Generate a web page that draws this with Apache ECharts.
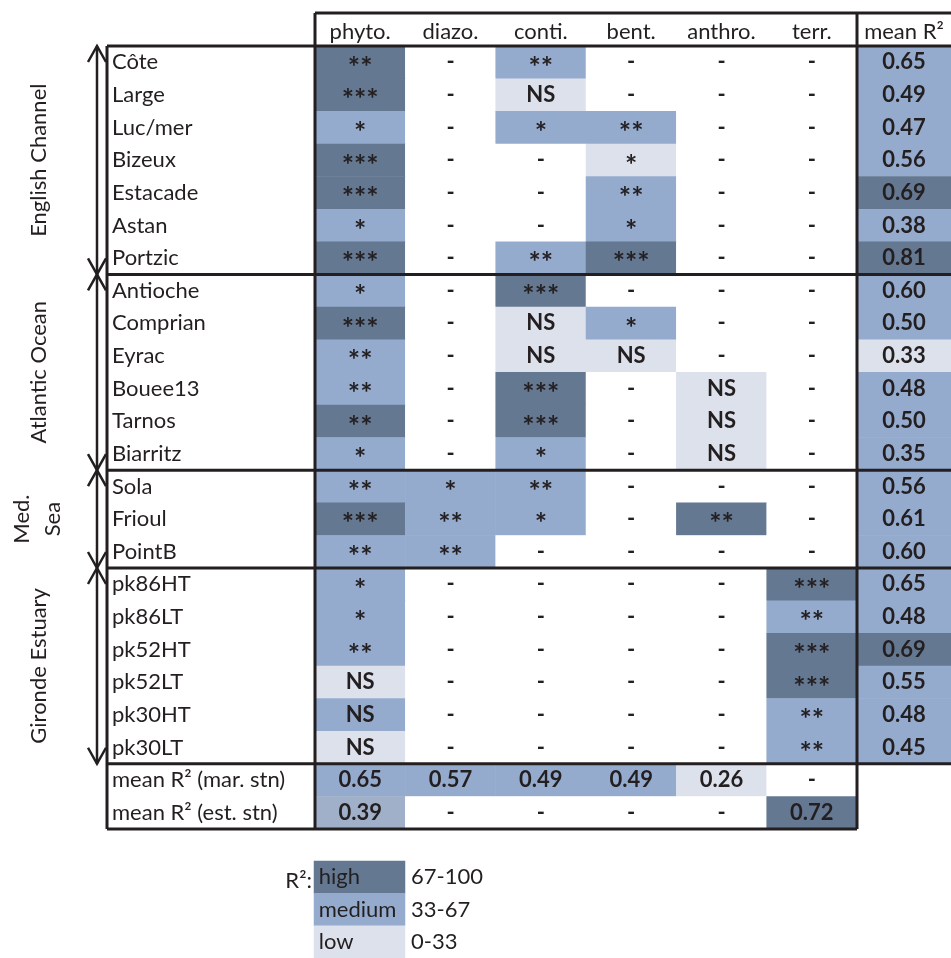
<!DOCTYPE html>
<html>
<head>
<meta charset="utf-8">
<script src="https://cdn.jsdelivr.net/npm/echarts@6/dist/echarts.min.js"></script>
<style>
html, body { margin: 0; padding: 0; background: #fff; overflow: hidden; }
#main { width: 951px; height: 958px; }
</style>
</head>
<body>
<div id="main"></div>
<script>
// column headers and row names
var columns = ['phyto.', 'diazo.', 'conti.', 'bent.', 'anthro.', 'terr.'];
var meanColumn = ['mean R²'];
var stations = ['Côte', 'Large', 'Luc/mer', 'Bizeux', 'Estacade', 'Astan', 'Portzic',
    'Antioche', 'Comprian', 'Eyrac', 'Bouee13', 'Tarnos', 'Biarritz',
    'Sola', 'Frioul', 'PointB',
    'pk86HT', 'pk86LT', 'pk52HT', 'pk52LT', 'pk30HT', 'pk30LT',
    'mean R² (mar. stn)', 'mean R² (est. stn)'];

// cell text, one row per station (last entry = mean R² column)
var cellText = [
    ['**', '-', '**', '-', '-', '-', '0.65'],
    ['***', '-', 'NS', '-', '-', '-', '0.49'],
    ['*', '-', '*', '**', '-', '-', '0.47'],
    ['***', '-', '-', '*', '-', '-', '0.56'],
    ['***', '-', '-', '**', '-', '-', '0.69'],
    ['*', '-', '-', '*', '-', '-', '0.38'],
    ['***', '-', '**', '***', '-', '-', '0.81'],
    ['*', '-', '***', '-', '-', '-', '0.60'],
    ['***', '-', 'NS', '*', '-', '-', '0.50'],
    ['**', '-', 'NS', 'NS', '-', '-', '0.33'],
    ['**', '-', '***', '-', 'NS', '-', '0.48'],
    ['**', '-', '***', '-', 'NS', '-', '0.50'],
    ['*', '-', '*', '-', 'NS', '-', '0.35'],
    ['**', '*', '**', '-', '-', '-', '0.56'],
    ['***', '**', '*', '-', '**', '-', '0.61'],
    ['**', '**', '-', '-', '-', '-', '0.60'],
    ['*', '-', '-', '-', '-', '***', '0.65'],
    ['*', '-', '-', '-', '-', '**', '0.48'],
    ['**', '-', '-', '-', '-', '***', '0.69'],
    ['NS', '-', '-', '-', '-', '***', '0.55'],
    ['NS', '-', '-', '-', '-', '**', '0.48'],
    ['NS', '-', '-', '-', '-', '**', '0.45'],
    ['0.65', '0.57', '0.49', '0.49', '0.26', '-', ''],
    ['0.39', '-', '-', '-', '-', '0.72', '']
];

// R² class of each cell: 0 none, 1 low, 2 medium, 3 high, 4 medium (est.)
var cellLevel = [
    [3, 0, 2, 0, 0, 0, 2],
    [3, 0, 1, 0, 0, 0, 2],
    [2, 0, 2, 2, 0, 0, 2],
    [3, 0, 0, 1, 0, 0, 2],
    [3, 0, 0, 2, 0, 0, 3],
    [2, 0, 0, 2, 0, 0, 2],
    [3, 0, 2, 3, 0, 0, 3],
    [2, 0, 3, 0, 0, 0, 2],
    [3, 0, 1, 2, 0, 0, 2],
    [2, 0, 1, 1, 0, 0, 1],
    [2, 0, 3, 0, 1, 0, 2],
    [3, 0, 3, 0, 1, 0, 2],
    [2, 0, 2, 0, 1, 0, 2],
    [2, 2, 2, 0, 0, 0, 2],
    [3, 2, 2, 0, 3, 0, 2],
    [2, 2, 0, 0, 0, 0, 2],
    [2, 0, 0, 0, 0, 3, 2],
    [2, 0, 0, 0, 0, 2, 2],
    [2, 0, 0, 0, 0, 3, 3],
    [1, 0, 0, 0, 0, 3, 2],
    [2, 0, 0, 0, 0, 2, 2],
    [1, 0, 0, 0, 0, 2, 2],
    [2, 2, 2, 2, 1, 0, null],
    [4, 0, 0, 0, 0, 3, null]
];

// station groups (row index ranges)
var groupNames = ['English Channel', 'Atlantic Ocean', 'Med.|Sea', 'Gironde Estuary'];
var groupStart = [0, 7, 13, 16];
var groupEnd = [7, 13, 16, 22];

// legend
var legendNames = ['high', 'medium', 'low'];
var legendLevels = [3, 2, 1];
var legendRanges = ['67-100', '33-67', '0-33'];

var levelColors = ['#ffffff', '#dde1ec', '#95abce', '#657892', '#a0b0c9'];
var ink = '#231f20';
var font = 'Lato';

var G = { left: 315, top: 46, width: 542, height: 783 };   // 6 factor columns
var M = { left: 857, width: 95 };                            // mean R² column
var rowH = G.height / stations.length;

function makeCell(r, c, x) {
    var lv = cellLevel[r][c];
    var item = { value: [x, r, lv], itemStyle: { color: levelColors[lv] } };
    // asterisks are drawn bigger, like the original
    if (cellText[r][c].charAt(0) === '*') {
        item.label = { fontSize: 29, padding: 0, offset: [0, 5] };
    }
    return item;
}

var cells = [], meanCells = [];
for (var r = 0; r < stations.length; r++) {
    for (var c = 0; c < columns.length; c++) {
        cells.push(makeCell(r, c, c));
    }
    if (cellLevel[r][6] !== null) meanCells.push(makeCell(r, 6, 0));
}
var legendCells = legendNames.map(function(n, i) {
    return { value: [0, i, legendLevels[i]], itemStyle: { color: levelColors[legendLevels[i]] } };
});

var chart = echarts.init(document.getElementById('main'));

// table borders and group arrows
function buildGraphics() {
    var g = [];
    var Y = function(j) { return G.top + j * rowH; };
    var right = 960, leftEdge = 107, xMid = M.left;
    function line(x1, y1, x2, y2) {
        g.push({ type: 'line', shape: { x1: x1, y1: y1, x2: x2, y2: y2 },
            style: { stroke: ink, lineWidth: 3 }, z: 10 });
    }
    line(G.left, 13, right, 13);
    line(leftEdge, Y(0), right, Y(0));
    line(G.left, 13, G.left, Y(24));
    line(xMid, 13, xMid, Y(24));
    line(leftEdge, Y(0), leftEdge, Y(24));
    groupEnd.forEach(function(e) { line(leftEdge, Y(e), right, Y(e)); });
    line(leftEdge, Y(24), xMid, Y(24));

    var ax = 97;
    groupNames.forEach(function(name, i) {
        var y1 = Y(groupStart[i]), y2 = Y(groupEnd[i]);
        g.push({ type: 'polyline', shape: { points: [[ax, y1], [ax, y2]] },
            style: { stroke: ink, lineWidth: 2.5, fill: null } });
        g.push({ type: 'polyline', shape: { points: [[ax - 9, y1 + 16], [ax, y1], [ax + 9, y1 + 16]] },
            style: { stroke: ink, lineWidth: 2.5, fill: null } });
        g.push({ type: 'polyline', shape: { points: [[ax - 9, y2 - 16], [ax, y2], [ax + 9, y2 - 16]] },
            style: { stroke: ink, lineWidth: 2.5, fill: null } });
        var cy = (y1 + y2) / 2;
        var parts = name.split('|');
        if (parts.length === 1) {
            g.push({ type: 'text', x: 39, y: cy, rotation: Math.PI / 2,
                style: { text: name, font: '22px ' + font, fill: ink, align: 'center', verticalAlign: 'middle' } });
        } else {
            g.push({ type: 'text', x: 22, y: cy, rotation: Math.PI / 2,
                style: { text: parts[0], font: '22px ' + font, fill: ink, align: 'center', verticalAlign: 'middle' } });
            g.push({ type: 'text', x: 53, y: cy, rotation: Math.PI / 2,
                style: { text: parts[1], font: '22px ' + font, fill: ink, align: 'center', verticalAlign: 'middle' } });
        }
    });
    g.push({ type: 'text', x: 312, y: 881,
        style: { text: 'R²:', font: '22px ' + font, fill: ink, align: 'right', verticalAlign: 'middle' } });
    return g;
}

var hiddenAxis = { axisLine: { show: false }, axisTick: { show: false }, splitLine: { show: false } };
var cellLabel = {
    show: true, fontSize: 22, fontWeight: 'bold', color: ink, fontFamily: font,
    padding: [8, 0, 0, 0],
    formatter: function(p) {
        var c = p.seriesIndex === 1 ? 6 : p.value[0];
        return cellText[p.value[1]][c];
    }
};

var option = {
    animation: false,
    backgroundColor: '#fff',
    textStyle: { fontFamily: font },
    grid: [
        { left: G.left, top: G.top, width: G.width, height: G.height },
        { left: M.left, top: G.top, width: M.width, height: G.height },
        { left: 314, top: 861, width: 91, height: 97 }
    ],
    xAxis: [
        Object.assign({
            type: 'category', gridIndex: 0, data: columns, position: 'top',
            axisLabel: { fontSize: 22, color: ink, fontFamily: font, margin: 3, interval: 0 }
        }, hiddenAxis),
        Object.assign({
            type: 'category', gridIndex: 1, data: meanColumn, position: 'top',
            axisLabel: { fontSize: 22, color: ink, fontFamily: font, margin: 3 }
        }, hiddenAxis),
        { type: 'category', gridIndex: 2, data: [''], show: false }
    ],
    yAxis: [
        Object.assign({
            type: 'category', gridIndex: 0, data: stations, inverse: true,
            axisLabel: { fontSize: 22, color: ink, fontFamily: font, align: 'left', margin: 203, interval: 0,
                padding: [8, 0, 0, 0] }
        }, hiddenAxis),
        { type: 'category', gridIndex: 1, data: stations, inverse: true, show: false },
        { type: 'category', gridIndex: 2, data: legendNames, inverse: true, show: false },
        Object.assign({
            type: 'category', gridIndex: 2, data: legendRanges, inverse: true, position: 'right',
            axisLabel: { fontSize: 22, color: ink, fontFamily: font, align: 'left', margin: 6,
                padding: [8, 0, 0, 0] }
        }, hiddenAxis)
    ],
    series: [
        {
            type: 'heatmap', xAxisIndex: 0, yAxisIndex: 0, data: cells,
            itemStyle: { borderWidth: 0 }, label: cellLabel, emphasis: { disabled: true }
        },
        {
            type: 'heatmap', xAxisIndex: 1, yAxisIndex: 1, data: meanCells,
            itemStyle: { borderWidth: 0 }, label: cellLabel, emphasis: { disabled: true }
        },
        {
            type: 'heatmap', xAxisIndex: 2, yAxisIndex: 2, data: legendCells,
            itemStyle: { borderWidth: 0 },
            label: {
                show: true, position: 'insideLeft', distance: 5, fontSize: 22, color: ink, fontFamily: font,
                padding: [8, 0, 0, 0],
                formatter: function(p) { return legendNames[p.value[1]]; }
            },
            emphasis: { disabled: true }
        }
    ],
    graphic: buildGraphics()
};

chart.setOption(option);
</script>
</body>
</html>
